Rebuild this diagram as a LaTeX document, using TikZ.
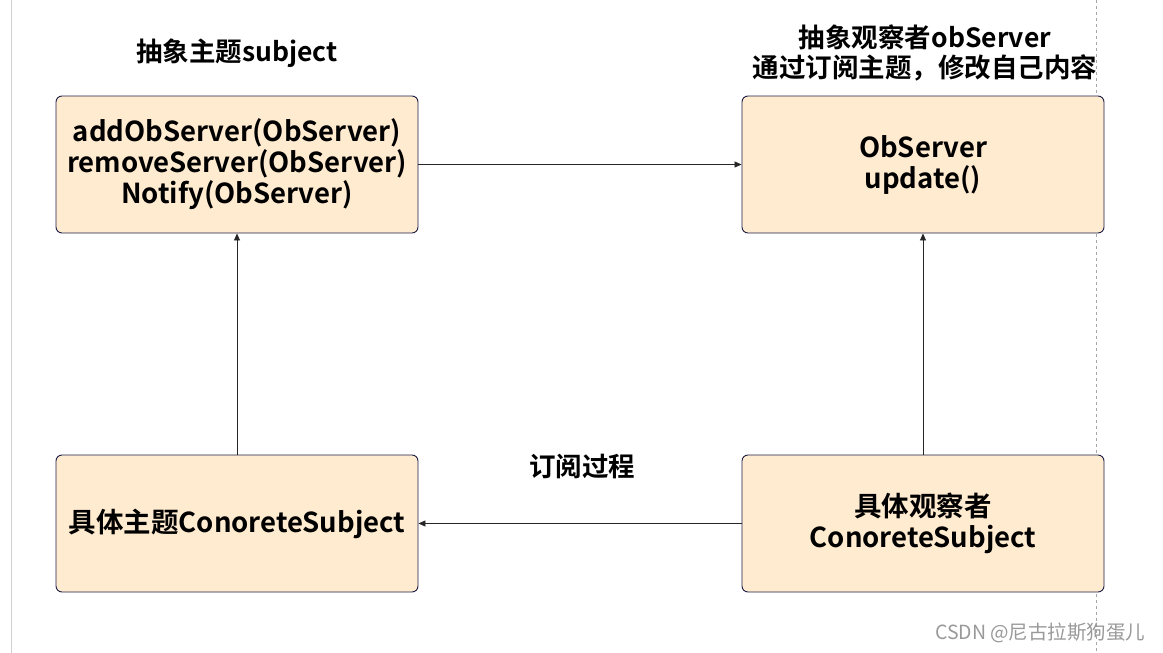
\documentclass[tikz,border=0pt]{standalone}
\usepackage{fontspec}
\setmainfont{Noto Sans CJK SC}[BoldFont={Noto Sans CJK SC Bold}]
\newfontfamily\wmfont{Noto Sans CJK SC}
\usetikzlibrary{arrows.meta}
\definecolor{boxfill}{HTML}{FFEBD0}
\definecolor{boxline}{HTML}{1C1C44}
\begin{document}
\begin{tikzpicture}[x=1pt,y=-1pt,
  box/.style={draw=boxline,fill=boxfill,rounded corners=6pt,line width=0.9pt,
    minimum width=362pt,minimum height=137pt,inner sep=0pt,align=center,
    font=\fontsize{27.5}{31}\selectfont\bfseries},
  ttl/.style={align=center,font=\fontsize{26.5}{30}\selectfont\bfseries},
  conn/.style={line width=0.8pt,draw=black!85,-{Triangle[length=7pt,width=6pt]}}]
\useasboundingbox (0,0) rectangle (1163,653);
\draw[black!18,line width=1pt] (11,0) -- (11,653);
\draw[black!35,dashed,line width=0.8pt] (1096,0) -- (1096,653);
\node[box] (s) at (237,164.5) {addObServer(ObServer)\\removeServer(ObServer)\\Notify(ObServer)};
\node[box] (o) at (923,164.5) {ObServer\\update()};
\node[box] (cs) at (237,523.5) {具体主题ConoreteSubject};
\node[box] (co) at (923,523.5) {具体观察者\\ConoreteSubject};
\node[ttl] (ts) at (237,53) {抽象主题subject};
\node[ttl] (to) at (925,53) {抽象观察者obServer\\通过订阅主题，修改自己内容};
\node[ttl] (tp) at (582,467) {订阅过程};
\node[text=black!40,font=\wmfont\fontsize{19.5}{22}\selectfont,anchor=east] (wm) at (1149,633) {CSDN @尼古拉斯狗蛋儿};
\draw[conn] (s.east) -- (o.west);
\draw[conn] (cs.north) -- (s.south);
\draw[conn] (co.north) -- (o.south);
\draw[conn] (co.west) -- (cs.east);
\end{tikzpicture}
\end{document}
